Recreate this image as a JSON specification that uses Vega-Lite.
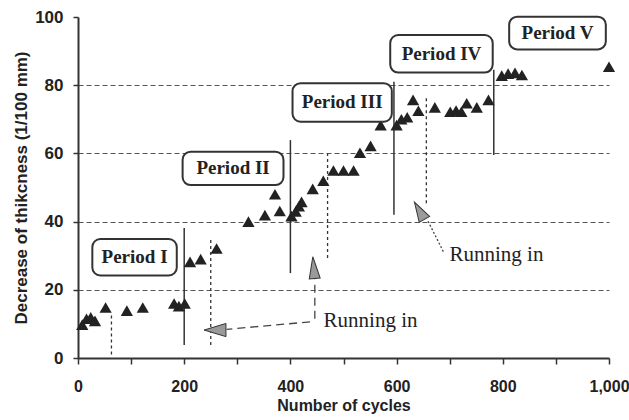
{
  "$schema": "https://vega.github.io/schema/vega-lite/v6.json",
  "width": 531,
  "height": 341,
  "autosize": "none",
  "padding": {"left": 78, "top": 17, "right": 20, "bottom": 62},
  "background": "white",
  "config": {
    "view": {"stroke": null},
    "axis": {
      "labelFont": "Liberation Sans",
      "labelFontWeight": "bold",
      "labelFontSize": 17,
      "labelColor": "#222",
      "titleFont": "Liberation Sans",
      "titleFontWeight": "bold",
      "titleFontSize": 17,
      "titleColor": "#222",
      "domainColor": "#333",
      "domainWidth": 2,
      "tickColor": "#333",
      "tickWidth": 1.5
    }
  },
  "datasets": {
    "pts": [
      {"cycles": 8, "thickness": 9.8}, {"cycles": 16, "thickness": 11.5}, {"cycles": 24, "thickness": 11.9}, {"cycles": 32, "thickness": 10.9},
      {"cycles": 52, "thickness": 14.8}, {"cycles": 92, "thickness": 13.9}, {"cycles": 122, "thickness": 14.8},
      {"cycles": 181, "thickness": 16.0}, {"cycles": 190, "thickness": 15.2}, {"cycles": 201, "thickness": 16.0},
      {"cycles": 211, "thickness": 28.2}, {"cycles": 231, "thickness": 29.0}, {"cycles": 261, "thickness": 32.1},
      {"cycles": 321, "thickness": 40.0}, {"cycles": 352, "thickness": 41.9}, {"cycles": 371, "thickness": 48.0}, {"cycles": 380, "thickness": 43.1},
      {"cycles": 402, "thickness": 41.6}, {"cycles": 410, "thickness": 43.0}, {"cycles": 416, "thickness": 44.5}, {"cycles": 421, "thickness": 45.8},
      {"cycles": 442, "thickness": 49.6}, {"cycles": 462, "thickness": 52.0},
      {"cycles": 481, "thickness": 55.0}, {"cycles": 500, "thickness": 55.0}, {"cycles": 519, "thickness": 55.0},
      {"cycles": 531, "thickness": 60.2}, {"cycles": 551, "thickness": 62.2}, {"cycles": 570, "thickness": 68.3},
      {"cycles": 600, "thickness": 68.3}, {"cycles": 609, "thickness": 70.0}, {"cycles": 620, "thickness": 70.6},
      {"cycles": 631, "thickness": 75.7}, {"cycles": 641, "thickness": 72.5}, {"cycles": 672, "thickness": 73.5},
      {"cycles": 701, "thickness": 72.2}, {"cycles": 712, "thickness": 72.6}, {"cycles": 722, "thickness": 72.2},
      {"cycles": 732, "thickness": 74.7}, {"cycles": 751, "thickness": 73.5}, {"cycles": 773, "thickness": 75.7},
      {"cycles": 798, "thickness": 82.8}, {"cycles": 810, "thickness": 83.4}, {"cycles": 823, "thickness": 83.6}, {"cycles": 836, "thickness": 83.0},
      {"cycles": 1000, "thickness": 85.4}
    ],
    "vlines": [
      {"cycles": 200, "lo": 3.8, "hi": 38.1, "kind": "boundary"},
      {"cycles": 400, "lo": 24.9, "hi": 63.9, "kind": "boundary"},
      {"cycles": 595, "lo": 42, "hi": 81, "kind": "boundary"},
      {"cycles": 783, "lo": 59.5, "hi": 84.5, "kind": "boundary"},
      {"cycles": 63, "lo": 1, "hi": 13, "kind": "running"},
      {"cycles": 250, "lo": 3.8, "hi": 34.6, "kind": "running"},
      {"cycles": 470, "lo": 29.3, "hi": 60, "kind": "running"},
      {"cycles": 656, "lo": 45.4, "hi": 76.6, "kind": "running"}
    ],
    "boxes": [
      {"label": "Period I", "x1": 27, "x2": 186, "y1": 24.2, "y2": 34.9},
      {"label": "Period II", "x1": 197, "x2": 387, "y1": 50.7, "y2": 60.5},
      {"label": "Period III", "x1": 404, "x2": 591, "y1": 69.3, "y2": 80.6},
      {"label": "Period IV", "x1": 588, "x2": 781, "y1": 83.7, "y2": 94.7},
      {"label": "Period V", "x1": 812, "x2": 994, "y1": 90.5, "y2": 100.1}
    ],
    "notes": [
      {"label": "Running in", "cycles": 551, "value": 10.9},
      {"label": "Running in", "cycles": 788, "value": 30.3}
    ],
    "segs": [
      {"id": "a1", "x1": 437, "y1": 10.6, "x2": 280, "y2": 8.4},
      {"id": "a2", "x1": 446, "y1": 11.5, "x2": 446, "y2": 23},
      {"id": "a3", "x1": 688, "y1": 31.2, "x2": 658, "y2": 40.5}
    ],
    "heads": [
      {"id": "a1", "cycles": 258, "value": 8.2},
      {"id": "a2", "cycles": 444, "value": 26.5},
      {"id": "a3", "cycles": 643, "value": 43.2}
    ]
  },
  "layer": [
    {
      "data": {"name": "pts"},
      "mark": {"type": "point", "opacity": 0},
      "encoding": {
        "x": {
          "field": "cycles", "type": "quantitative",
          "scale": {"domain": [0, 1000], "nice": false},
          "axis": {
            "title": "Number of cycles",
            "values": [0, 100, 200, 300, 400, 500, 600, 700, 800, 900, 1000],
            "labelExpr": "datum.value % 200 === 0 ? datum.label : ''",
            "labelFontSize": 16, "titleFontSize": 16,
            "tickSize": 6, "labelPadding": 14, "titlePadding": 3,
            "grid": false, "labelFlush": false
          }
        },
        "y": {
          "field": "thickness", "type": "quantitative",
          "scale": {"domain": [0, 100], "nice": false},
          "axis": {
            "title": "Decrease of thikcness (1/100 mm)",
            "values": [0, 10, 20, 30, 40, 50, 60, 70, 80, 90, 100],
            "labelExpr": "datum.value % 20 === 0 ? datum.label : ''",
            "tickSize": 5, "labelPadding": 10, "titlePadding": 4,
            "grid": true,
            "gridColor": "#444",
            "gridDash": [5, 3],
            "gridWidth": 1,
            "gridOpacity": {"condition": {"test": "datum.value % 20 === 0 && datum.value > 0 && datum.value < 100", "value": 0.9}, "value": 0},
            "labelFlush": false
          }
        }
      }
    },
    {
      "data": {"name": "vlines"},
      "transform": [{"filter": "datum.kind === 'boundary'"}],
      "mark": {"type": "rule", "color": "#333", "strokeWidth": 1.5},
      "encoding": {
        "x": {"field": "cycles", "type": "quantitative"},
        "y": {"field": "lo", "type": "quantitative"},
        "y2": {"field": "hi"}
      }
    },
    {
      "data": {"name": "vlines"},
      "transform": [{"filter": "datum.kind === 'running'"}],
      "mark": {"type": "rule", "color": "#333", "strokeWidth": 1.3, "strokeDash": [3, 3]},
      "encoding": {
        "x": {"field": "cycles", "type": "quantitative"},
        "y": {"field": "lo", "type": "quantitative"},
        "y2": {"field": "hi"}
      }
    },
    {
      "data": {"name": "pts"},
      "mark": {"type": "point", "shape": "triangle-up", "filled": true, "color": "#222", "size": 150, "opacity": 1},
      "encoding": {
        "x": {"field": "cycles", "type": "quantitative"},
        "y": {"field": "thickness", "type": "quantitative"}
      }
    },
    {
      "data": {"name": "boxes"},
      "mark": {"type": "rect", "fill": "white", "stroke": "#333", "strokeWidth": 2, "cornerRadius": 8},
      "encoding": {
        "x": {"field": "x1", "type": "quantitative"},
        "x2": {"field": "x2"},
        "y": {"field": "y1", "type": "quantitative"},
        "y2": {"field": "y2"}
      }
    },
    {
      "data": {"name": "boxes"},
      "transform": [{"calculate": "(datum.x1 + datum.x2) / 2", "as": "cx"}, {"calculate": "(datum.y1 + datum.y2) / 2", "as": "cy"}],
      "mark": {"type": "text", "font": "Liberation Serif", "fontWeight": "bold", "fontSize": 19, "color": "#222", "baseline": "middle", "align": "center"},
      "encoding": {
        "x": {"field": "cx", "type": "quantitative"},
        "y": {"field": "cy", "type": "quantitative"},
        "text": {"field": "label"}
      }
    },
    {
      "data": {"name": "notes"},
      "mark": {"type": "text", "font": "Liberation Serif", "fontSize": 21, "color": "#222", "baseline": "middle", "align": "center"},
      "encoding": {
        "x": {"field": "cycles", "type": "quantitative"},
        "y": {"field": "value", "type": "quantitative"},
        "text": {"field": "label"}
      }
    },
    {
      "data": {"name": "segs"},
      "transform": [{"filter": "datum.id !== 'a3'"}],
      "mark": {"type": "rule", "color": "#444", "strokeWidth": 1.3, "strokeDash": [8, 5]},
      "encoding": {
        "x": {"field": "x1", "type": "quantitative"},
        "y": {"field": "y1", "type": "quantitative"},
        "x2": {"field": "x2"},
        "y2": {"field": "y2"}
      }
    },
    {
      "data": {"name": "segs"},
      "transform": [{"filter": "datum.id === 'a3'"}],
      "mark": {"type": "rule", "color": "#444", "strokeWidth": 1.3, "strokeDash": [2, 2]},
      "encoding": {
        "x": {"field": "x1", "type": "quantitative"},
        "y": {"field": "y1", "type": "quantitative"},
        "x2": {"field": "x2"},
        "y2": {"field": "y2"}
      }
    },
    {
      "data": {"name": "heads"},
      "transform": [{"filter": "datum.id === 'a1'"}],
      "mark": {"type": "point", "shape": "M-1,0L1,-0.6L1,0.6Z", "filled": true, "fill": "#9a9a9a", "stroke": "#333", "strokeWidth": 1, "size": 480, "angle": 0, "opacity": 1},
      "encoding": {
        "x": {"field": "cycles", "type": "quantitative"},
        "y": {"field": "value", "type": "quantitative"}
      }
    },
    {
      "data": {"name": "heads"},
      "transform": [{"filter": "datum.id === 'a2'"}],
      "mark": {"type": "point", "shape": "M-1,0L1,-0.5L1,0.5Z", "filled": true, "fill": "#9a9a9a", "stroke": "#333", "strokeWidth": 1, "size": 480, "angle": 85, "opacity": 1},
      "encoding": {
        "x": {"field": "cycles", "type": "quantitative"},
        "y": {"field": "value", "type": "quantitative"}
      }
    },
    {
      "data": {"name": "heads"},
      "transform": [{"filter": "datum.id === 'a3'"}],
      "mark": {"type": "point", "shape": "M-1,0L1,-0.6L1,0.6Z", "filled": true, "fill": "#9a9a9a", "stroke": "#333", "strokeWidth": 1, "size": 400, "angle": 60, "opacity": 1},
      "encoding": {
        "x": {"field": "cycles", "type": "quantitative"},
        "y": {"field": "value", "type": "quantitative"}
      }
    }
  ]
}
